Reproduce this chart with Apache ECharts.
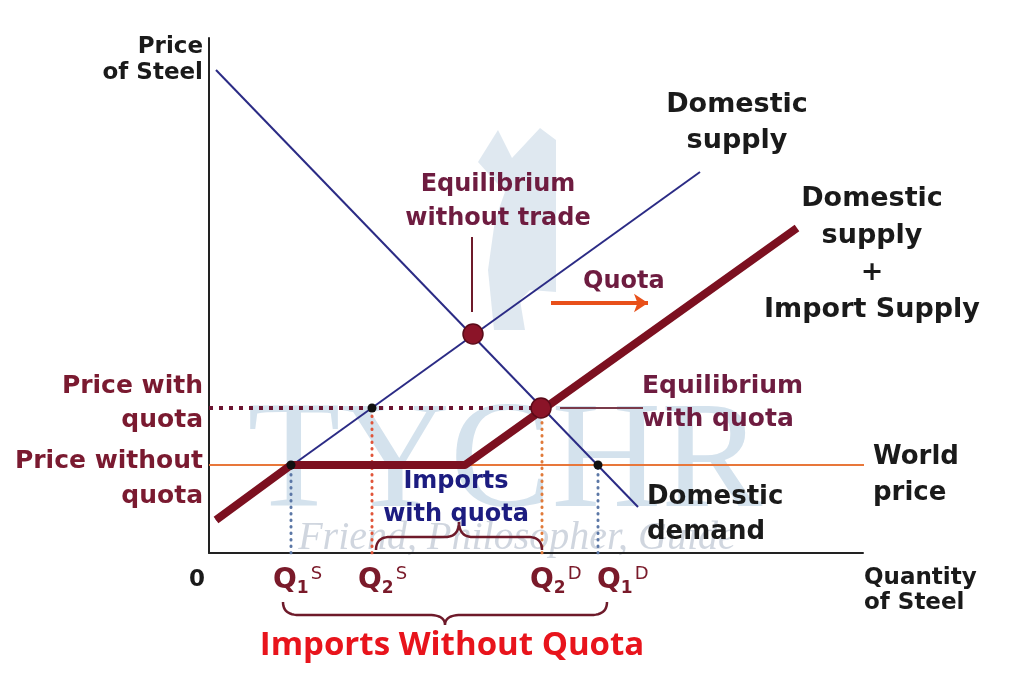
<!DOCTYPE html>
<html>
<head>
<meta charset="utf-8">
<script src="https://cdn.jsdelivr.net/npm/echarts@6/dist/echarts.min.js"></script>
<style>
html,body{margin:0;padding:0;background:#fff;}
#chart{width:1024px;height:683px;}
</style>
</head>
<body>
<div id="chart"></div>
<script>
// ---- data (in axis units) ----
const demandLine = [[7, 483], [429, 46]];
const domesticSupply = [[7, 33], [491, 381]];
const supplyWithImports = [[7, 33], [82, 88], [256, 88], [588, 325]];
const worldPriceLine = [[0, 88], [663, 88]];
const priceWithQuotaLine = [[0, 145], [336, 145]];
const quantityMarks = [82, 163, 333, 389];          // Q1S, Q2S, Q2D, Q1D
const quantityTops = [88, 145, 145, 88];
const quantitySubs = ['1', '2', '2', '1'];
const quantitySups = ['S', 'S', 'D', 'D'];
const equilibriumPoints = [[264, 219], [332, 145]];
const smallPoints = [[82, 88], [163, 145], [389, 88]];
const pointerNoTrade = [[263, 316], [263, 241]];
const pointerQuota = [[351, 145], [434, 145]];
const quotaArrow = [[342, 250], [439, 250]];
const xMax = 654, yMax = 515;

const FONT = '"DejaVu Sans", Verdana, sans-serif';
const MAROON = '#7a1a30';
const PURPLE = '#6e1c40';
const BLUE = '#2b2b85';

const chart = echarts.init(document.getElementById('chart'));

const verticalColors = ['#5b77a6', '#e0553a', '#e07a3a', '#5b77a6'];
const verticalSeries = quantityMarks.map((q, i) => ({
  type: 'line', symbol: 'none', silent: true, z: 1,
  data: [[q, 0], [q, quantityTops[i]]],
  lineStyle: {color: verticalColors[i], width: 3, type: [0.5, 6], cap: 'round'}
}));

const axisCommon = {
  type: 'value', axisTick: {show: false}, axisLabel: {show: false},
  splitLine: {show: false},
  axisLine: {show: true, lineStyle: {color: '#222', width: 2}}
};

chart.setOption({
  animation: false,
  backgroundColor: '#fff',
  grid: {left: 209, top: 38, width: xMax, height: yMax},
  xAxis: Object.assign({min: 0, max: xMax}, axisCommon),
  yAxis: Object.assign({min: 0, max: yMax}, axisCommon),
  series: [
    {type: 'line', symbol: 'none', clip: false, z: 1, data: worldPriceLine,
     lineStyle: {color: '#e8773a', width: 2}},
    {type: 'line', symbol: 'none', z: 2, data: priceWithQuotaLine,
     lineStyle: {color: '#6a1430', width: 4, type: [4, 6]}},
    ...verticalSeries,
    {type: 'line', symbol: 'none', z: 3, data: demandLine, lineStyle: {color: BLUE, width: 2}},
    {type: 'line', symbol: 'none', z: 3, data: domesticSupply, lineStyle: {color: BLUE, width: 2}},
    {type: 'line', symbol: 'none', z: 4, data: supplyWithImports,
     lineStyle: {color: '#7c1020', width: 8, join: 'round'}},
    {type: 'line', symbol: 'none', z: 3, data: pointerNoTrade, lineStyle: {color: '#6e1a2a', width: 2}},
    {type: 'line', symbol: 'none', z: 3, data: pointerQuota, lineStyle: {color: '#7a3a4a', width: 2}},
    {type: 'lines', coordinateSystem: 'cartesian2d', z: 5,
     symbol: ['none', 'arrow'], symbolSize: 14,
     data: [{coords: quotaArrow}],
     lineStyle: {color: '#e8501a', width: 4, opacity: 1, curveness: 0}},
    {type: 'scatter', z: 6, data: equilibriumPoints, symbolSize: 20,
     itemStyle: {color: '#8b1428', borderColor: '#5a0a18', borderWidth: 1.5, opacity: 1}},
    {type: 'scatter', z: 6, data: smallPoints, symbolSize: 9,
     itemStyle: {color: '#111', opacity: 1}}
  ]
});

function px(x, y) { return chart.convertToPixel({gridIndex: 0}, [x, y]); }

function quad(p0, p1, p2, n, out) {
  for (let i = 1; i <= n; i++) {
    const t = i / n, u = 1 - t;
    out.push([u * u * p0[0] + 2 * u * t * p1[0] + t * t * p2[0],
              u * u * p0[1] + 2 * u * t * p1[1] + t * t * p2[1]]);
  }
}
function bracePoints(x1, x2, yEnd, yMid, yTip, r) {
  const xc = (x1 + x2) / 2;
  const pts = [[x1, yEnd]];
  quad([x1, yEnd], [x1, yMid], [x1 + r, yMid], 12, pts);
  pts.push([xc - r, yMid]);
  quad([xc - r, yMid], [xc, yMid], [xc, yTip], 12, pts);
  quad([xc, yTip], [xc, yMid], [xc + r, yMid], 12, pts);
  pts.push([x2 - r, yMid]);
  quad([x2 - r, yMid], [x2, yMid], [x2, yEnd], 12, pts);
  return pts;
}

const base = px(0, 0);
const q1s = px(quantityMarks[0], 0)[0], q2s = px(quantityMarks[1], 0)[0];
const q2d = px(quantityMarks[2], 0)[0], q1d = px(quantityMarks[3], 0)[0];
const axisY = base[1];

function txt(text, x, y, opts) {
  return {
    type: 'text', z: 20, silent: true,
    style: Object.assign({
      text: text, x: x, y: y,
      font: 'bold 24px ' + FONT, fill: '#1a1a1a',
      align: 'center', verticalAlign: 'middle'
    }, opts || {})
  };
}

const qOffsets = [-18, -14, -12, -1];
const qLabels = quantityMarks.map((q, i) => ({
  type: 'text', z: 20, silent: true,
  style: {
    text: '{q|Q}{sub|' + quantitySubs[i] + '}{sup|' + quantitySups[i] + '}',
    x: px(q, 0)[0] + qOffsets[i], y: 565, align: 'left', verticalAlign: 'top',
    rich: {
      q: {font: 'bold 28px ' + FONT, fill: '#7a1a2a', lineHeight: 32},
      sub: {font: 'bold 17px ' + FONT, fill: '#7a1a2a', verticalAlign: 'bottom', lineHeight: 32, padding: [0, 0, 0, 0]},
      sup: {font: '18px ' + FONT, fill: '#7a1a2a', verticalAlign: 'top', lineHeight: 32, padding: [0, 0, 0, 2]}
    }
  }
}));

chart.setOption({
  graphic: [
    // watermark
    {type: 'polygon', z: 0, silent: true,
     shape: {points: [[478,162],[498,130],[512,158],[540,128],[556,140],[556,292],[530,290],[520,300],[525,330],[494,330],[488,270],[495,220],[505,192]]},
     style: {fill: 'rgba(175,198,218,0.4)'}},
    {type: 'text', z: 0, silent: true,
     style: {text: 'TYCHR', x: 505, y: 542, align: 'center', verticalAlign: 'bottom',
             font: '152px "Liberation Serif", serif', fill: 'rgba(160,190,215,0.45)'}},
    {type: 'text', z: 0, silent: true,
     style: {text: 'Friend, Philosopher, Guide', x: 517, y: 538, align: 'center', verticalAlign: 'middle',
             font: 'italic 40px "Liberation Serif", serif', fill: 'rgba(150,165,185,0.45)'}},
    // braces
    {type: 'polyline', z: 10, silent: true,
     shape: {points: bracePoints(q2s + 4, q2d, axisY - 3, axisY - 16, axisY - 31, 14)},
     style: {fill: null, stroke: '#6e1a2a', lineWidth: 2.5}},
    {type: 'polyline', z: 10, silent: true,
     shape: {points: bracePoints(q1s - 8, q1d + 9, axisY + 49, axisY + 62, axisY + 72, 16)},
     style: {fill: null, stroke: '#6e1a2a', lineWidth: 2.5}},
    // labels
    txt('Price\nof Steel', 203, 60, {align: 'right', font: 'bold 23px ' + FONT, lineHeight: 26}),
    txt('Domestic\nsupply', 737, 123, {font: 'bold 27px ' + FONT, lineHeight: 36}),
    txt('Domestic\nsupply\n+\nImport Supply', 872, 254, {font: 'bold 27px ' + FONT, lineHeight: 37}),
    txt('Equilibrium\nwithout trade', 498, 202, {font: 'bold 24px ' + FONT, lineHeight: 34, fill: PURPLE}),
    txt('Quota', 583, 282, {align: 'left', font: 'bold 24px ' + FONT, fill: PURPLE}),
    txt('Price with\nquota', 203, 403, {align: 'right', font: 'bold 25px ' + FONT, lineHeight: 34, fill: MAROON}),
    txt('Price without\nquota', 203, 479, {align: 'right', font: 'bold 25px ' + FONT, lineHeight: 35, fill: MAROON}),
    txt('Equilibrium\nwith quota', 642, 403, {align: 'left', font: 'bold 25px ' + FONT, lineHeight: 33, fill: PURPLE}),
    txt('World\nprice', 873, 475, {align: 'left', font: 'bold 26px ' + FONT, lineHeight: 36}),
    txt('Domestic\ndemand', 647, 515, {align: 'left', font: 'bold 26px ' + FONT, lineHeight: 35}),
    txt('Imports\nwith quota', 456, 498, {font: 'bold 24px ' + FONT, lineHeight: 33, fill: '#1c1c80'}),
    txt('Quantity\nof Steel', 864, 591, {align: 'left', font: 'bold 23px ' + FONT, lineHeight: 25}),
    txt('0', 197, 580, {font: 'bold 23px ' + FONT}),
    txt('Imports Without Quota', 452, 646, {font: 'bold 33px "Open Sans", sans-serif', fill: '#e8141c'}),
    ...qLabels
  ]
});
</script>
</body>
</html>
